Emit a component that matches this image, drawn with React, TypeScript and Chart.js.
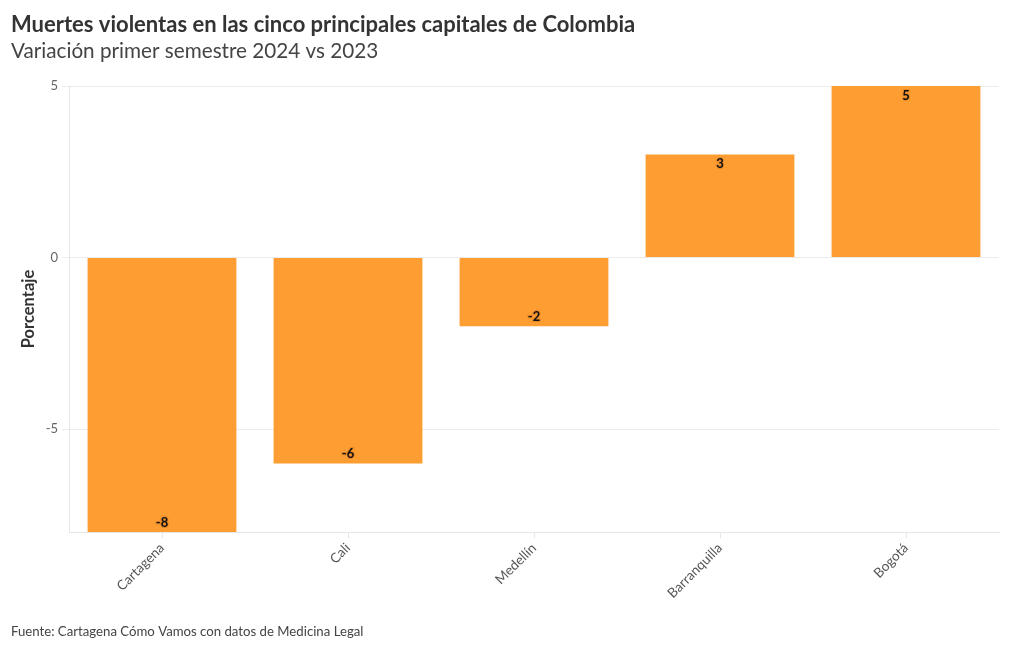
import { useEffect, useRef } from 'react';
import { Chart, registerables } from 'chart.js';
Chart.register(...registerables);

const categories = ['Cartagena', 'Cali', 'Medellín', 'Barranquilla', 'Bogotá'];
const values = [-8, -6, -2, 3, 5];
const yTicks = [-5, 0, 5];
const titleText = 'Muertes violentas en las cinco principales capitales de Colombia';
const subtitleText = 'Variación primer semestre 2024 vs 2023';
const sourceText = 'Fuente: Cartagena Cómo Vamos con datos de Medicina Legal';
const yTitle = 'Porcentaje';

const FONT = 'Lato';

const textPlugin = {
  id: 'texts',
  afterDraw(chart: any) {
    const ctx = chart.ctx;
    ctx.save();
    ctx.textAlign = 'left';
    ctx.textBaseline = 'alphabetic';
    ctx.fillStyle = '#333333';
    ctx.font = `bold 22px ${FONT}`;
    ctx.fillText(titleText, 11, 32);
    ctx.fillStyle = '#444444';
    ctx.font = `20.7px ${FONT}`;
    ctx.fillText(subtitleText, 11, 58);
    ctx.font = `13.2px ${FONT}`;
    ctx.fillText(sourceText, 11, 636);
    ctx.restore();
  },
};

const labelPlugin = {
  id: 'barLabels',
  afterDatasetsDraw(chart: any) {
    const ctx = chart.ctx;
    const meta = chart.getDatasetMeta(0);
    ctx.save();
    ctx.font = `bold 13px ${FONT}`;
    ctx.textAlign = 'center';
    ctx.textBaseline = 'middle';
    meta.data.forEach((el: any, i: number) => {
      const v = values[i];
      const y = v >= 0 ? el.y + 9.5 : el.y - 9.5;
      ctx.lineWidth = 2;
      ctx.strokeStyle = 'rgba(200,110,30,0.45)';
      ctx.strokeText(String(v), el.x, y);
      ctx.fillStyle = '#111111';
      ctx.fillText(String(v), el.x, y);
    });
    ctx.restore();
  },
};

export default function App() {
  const ref = useRef<HTMLCanvasElement>(null);
  useEffect(() => {
    document.body.style.margin = '0';
    Chart.defaults.font.family = FONT;
    const chart = new Chart(ref.current!, {
      type: 'bar',
      data: {
        labels: categories,
        datasets: [
          {
            data: values,
            backgroundColor: '#FE9D31',
            categoryPercentage: 0.8,
            barPercentage: 1,
          },
        ],
      },
      options: {
        responsive: false,
        animation: false,
        layout: { padding: { left: 10, right: 21, top: 86, bottom: 38 } },
        plugins: { legend: { display: false }, tooltip: { enabled: false } },
        scales: {
          x: {
            grid: { drawOnChartArea: false, offset: false, color: '#e6e6e6', tickLength: 6 },
            border: { color: '#e6e6e6' },
            ticks: { maxRotation: 45, minRotation: 45, color: '#555', font: { size: 13.5 }, padding: 2 },
            afterFit: (s: any) => {
              s.height = 80;
            },
          },
          y: {
            min: -8,
            max: 5,
            afterBuildTicks: (s: any) => {
              s.ticks = yTicks.map((v) => ({ value: v }));
            },
            grid: { color: '#ebebeb', tickLength: 7 },
            border: { display: true, color: '#e6e6e6' },
            ticks: { color: '#666', font: { size: 13 }, padding: 4 },
            title: {
              display: true,
              text: yTitle,
              color: '#333',
              font: { size: 16.5, weight: 'bold' },
              padding: { top: 9, bottom: 4 },
            },
            afterFit: (s: any) => {
              s.width = 59;
            },
          },
        },
      } as any,
      plugins: [textPlugin, labelPlugin],
    });
    return () => chart.destroy();
  }, []);
  return <canvas ref={ref} width={1020} height={650} style={{ display: 'block' }} />;
}
